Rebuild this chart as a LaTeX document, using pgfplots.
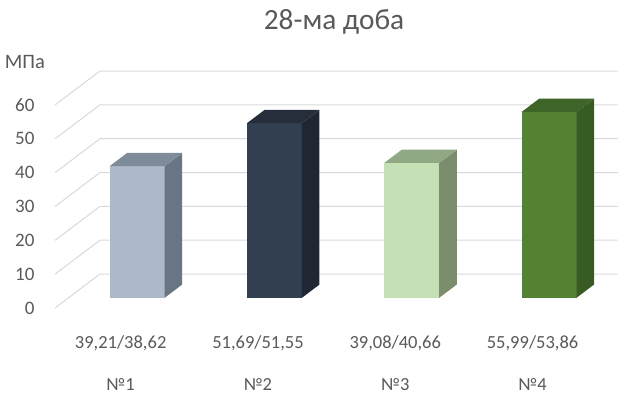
\documentclass[border=0pt]{standalone}
\usepackage{fontspec}
\setmainfont{Carlito}
\usepackage{pgfplots}
\pgfplotsset{compat=1.18}

\definecolor{txt}{HTML}{595959}
\definecolor{grd}{HTML}{D9D9D9}
% front / top / side shades of each column
\definecolor{aF}{HTML}{ADB9CA}\definecolor{aT}{HTML}{808B9A}\definecolor{aS}{HTML}{6A7584}
\definecolor{bF}{HTML}{323F50}\definecolor{bT}{HTML}{252E3A}\definecolor{bS}{HTML}{1F2732}
\definecolor{cF}{HTML}{C5E0B4}\definecolor{cT}{HTML}{90A883}\definecolor{cS}{HTML}{7A8E6E}
\definecolor{dF}{HTML}{548235}\definecolor{dT}{HTML}{3F6428}\definecolor{dS}{HTML}{385A23}

% one 3-D column: x-left, x-right, height, front, top, side colour
\newcommand{\column}[6]{%
  \addplot3[fill=#4, draw=none] coordinates {(#1,0.3,0) (#2,0.3,0) (#2,0.3,#3) (#1,0.3,#3)};
  \addplot3[fill=#6, draw=none] coordinates {(#2,0.3,0) (#2,0.69,0) (#2,0.69,#3) (#2,0.3,#3)};
  \addplot3[fill=#5, draw=none] coordinates {(#1,0.3,#3) (#2,0.3,#3) (#2,0.69,#3) (#1,0.69,#3)};
}

\begin{document}
\begin{tikzpicture}[font=\fontsize{18.5}{22}\selectfont, text=txt]
\begin{axis}[
  x={(137.3pt,0pt)}, y={(45pt,34pt)}, z={(0pt,3.383pt)},
  xmin=0.5, xmax=4.27, ymin=0, ymax=1, zmin=0, zmax=60,
  axis line style={draw=none},
  major tick length=0pt,
  clip=false,
  xtick={1,2,3,4},
  xticklabels={{39,21/38,62\\[20pt]№1},{51,69/51,55\\[20pt]№2},
               {39,08/40,66\\[20pt]№3},{55,99/53,86\\[20pt]№4}},
  xticklabel style={align=center, anchor=north, xshift=-3pt, yshift=-24pt},
  ytick=\empty,
  ztick={0,10,...,60},
  zticklabel style={anchor=east, xshift=-17pt, font=\fontsize{19}{22}\selectfont},
  tick label style={font=\fontsize{18.5}{22}\selectfont, text=txt},
  /pgf/number format/assume math mode=true,
]
% gridlines on the side and back walls
\pgfplotsinvokeforeach{0,10,...,60}{
  \draw[grd, line width=1pt] (axis cs:0.5,0,#1) -- (axis cs:0.5,1,#1) -- (axis cs:4.27,1,#1);
}
\column{0.8}{1.2}{38.92}{aF}{aT}{aS}
\column{1.8}{2.2}{51.62}{bF}{bT}{bS}
\column{2.8}{3.2}{39.87}{cF}{cT}{cS}
\column{3.8}{4.2}{54.93}{dF}{dT}{dS}
\coordinate (O) at (axis cs:0.5,0,0);
\end{axis}
\node[font=\fontsize{29.3}{33}\selectfont] at ([shift={(279pt,286pt)}]O) {28-ма доба};
\node[font=\fontsize{20.5}{24}\selectfont] at ([shift={(-30pt,246pt)}]O) {МПа};
\pgfresetboundingbox
\path[use as bounding box] (O) ++(-55pt,-94pt) rectangle ++(618pt,402pt);
\end{tikzpicture}
\end{document}
